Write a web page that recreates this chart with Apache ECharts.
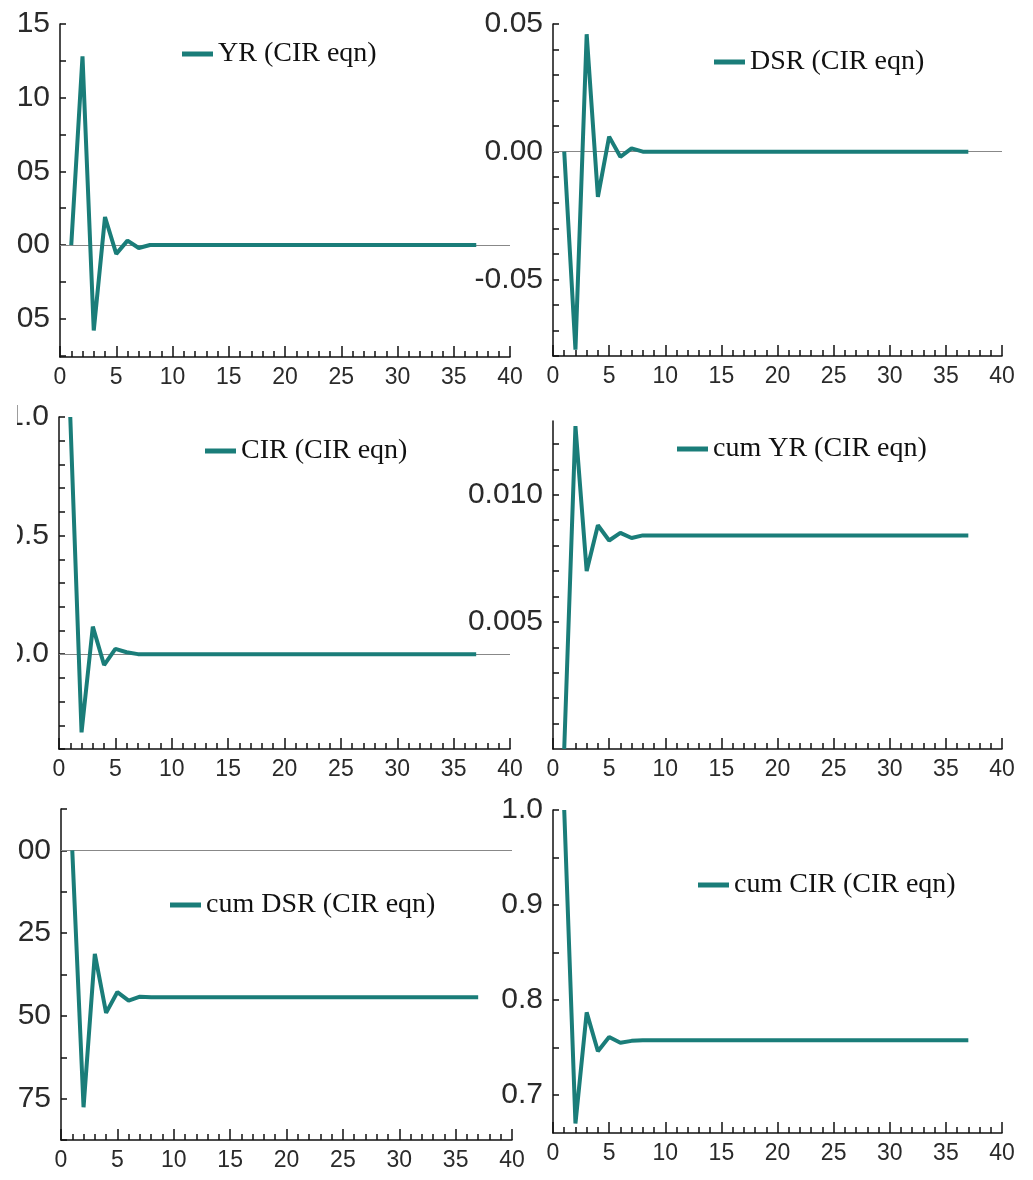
<!doctype html>
<html>
<head>
<meta charset="UTF-8">
<title>Impulse responses (CIR eqn)</title>
<script src="https://cdn.jsdelivr.net/npm/echarts@6/dist/echarts.min.js"></script>
<style>
	html, body { margin: 0; padding: 0; background: #fff; }
	#chart { position: absolute; left: 17px; top: 0; width: 1016px; height: 1180px; }
</style>
</head>
<body>
<div id="chart"></div>
<script>
// horizons 1..37
var horizons = [1, 2, 3, 4, 5, 6, 7, 8, 9, 10, 11, 12, 13, 14, 15, 16, 17, 18, 19, 20,
	21, 22, 23, 24, 25, 26, 27, 28, 29, 30, 31, 32, 33, 34, 35, 36, 37];

var yr = [0, 0.0128, -0.0058, 0.0019, -0.0006, 0.0003, -0.0002, 0, 0, 0, 0, 0, 0, 0, 0, 0, 0, 0, 0, 0,
	0, 0, 0, 0, 0, 0, 0, 0, 0, 0, 0, 0, 0, 0, 0, 0, 0];
var dsr = [0, -0.0775, 0.0460, -0.0177, 0.0059, -0.0020, 0.0013, 0, 0, 0, 0, 0, 0, 0, 0, 0, 0, 0, 0, 0,
	0, 0, 0, 0, 0, 0, 0, 0, 0, 0, 0, 0, 0, 0, 0, 0, 0];
var cir = [1.0, -0.33, 0.116, -0.046, 0.022, 0.008, 0, 0, 0, 0, 0, 0, 0, 0, 0, 0, 0, 0, 0, 0,
	0, 0, 0, 0, 0, 0, 0, 0, 0, 0, 0, 0, 0, 0, 0, 0, 0];
var cumYr = [0, 0.0127, 0.0070, 0.0088, 0.0082, 0.0085, 0.0083, 0.0084, 0.0084, 0.0084, 0.0084, 0.0084,
	0.0084, 0.0084, 0.0084, 0.0084, 0.0084, 0.0084, 0.0084, 0.0084, 0.0084, 0.0084, 0.0084, 0.0084, 0.0084,
	0.0084, 0.0084, 0.0084, 0.0084, 0.0084, 0.0084, 0.0084, 0.0084, 0.0084, 0.0084, 0.0084, 0.0084];
var cumDsr = [0, -0.0776, -0.0313, -0.0491, -0.0428, -0.0454, -0.0442, -0.0444, -0.0444, -0.0444, -0.0444,
	-0.0444, -0.0444, -0.0444, -0.0444, -0.0444, -0.0444, -0.0444, -0.0444, -0.0444, -0.0444, -0.0444,
	-0.0444, -0.0444, -0.0444, -0.0444, -0.0444, -0.0444, -0.0444, -0.0444, -0.0444, -0.0444, -0.0444,
	-0.0444, -0.0444, -0.0444, -0.0444];
var cumCir = [1.0, 0.670, 0.787, 0.746, 0.761, 0.755, 0.757, 0.7576, 0.7576, 0.7576, 0.7576, 0.7576,
	0.7576, 0.7576, 0.7576, 0.7576, 0.7576, 0.7576, 0.7576, 0.7576, 0.7576, 0.7576, 0.7576, 0.7576, 0.7576,
	0.7576, 0.7576, 0.7576, 0.7576, 0.7576, 0.7576, 0.7576, 0.7576, 0.7576, 0.7576, 0.7576, 0.7576];

var names = ['YR (CIR eqn)', 'DSR (CIR eqn)', 'CIR (CIR eqn)', 'cum YR (CIR eqn)', 'cum DSR (CIR eqn)', 'cum CIR (CIR eqn)'];
var values = [yr, dsr, cir, cumYr, cumDsr, cumCir];

// y axis: labelled values, tick values, range, decimals
var yLabels = [
	[-0.005, 0, 0.005, 0.010, 0.015],
	[-0.05, 0, 0.05],
	[0, 0.5, 1.0],
	[0.005, 0.010],
	[-0.075, -0.05, -0.025, 0],
	[0.7, 0.8, 0.9, 1.0]
];
var yTicks = [
	[-0.0075, -0.005, -0.0025, 0, 0.0025, 0.005, 0.0075, 0.010, 0.0125, 0.015],
	[-0.08, -0.07, -0.06, -0.05, -0.04, -0.03, -0.02, -0.01, 0, 0.01, 0.02, 0.03, 0.04, 0.05],
	[-0.4, -0.3, -0.2, -0.1, 0, 0.1, 0.2, 0.3, 0.4, 0.5, 0.6, 0.7, 0.8, 0.9, 1.0],
	[0.001, 0.002, 0.003, 0.004, 0.005, 0.006, 0.007, 0.008, 0.009, 0.010, 0.011, 0.012, 0.013],
	[-0.0875, -0.075, -0.0625, -0.05, -0.0375, -0.025, -0.0125, 0, 0.0125],
	[0.7, 0.75, 0.8, 0.85, 0.9, 0.95, 1.0]
];
var yMin = [-0.0076, -0.08, -0.4, 0, -0.0875, 0.66];
var yMax = [0.015, 0.05, 1.0, 0.0129, 0.0125, 1.0];
var yDec = [3, 2, 1, 3, 3, 1];
var zeroLine = [true, true, true, false, true, false];

// layout in container coordinates (container starts at x = 17)
var grids = [
	{ left: 43, top: 24, width: 450, height: 333 },
	{ left: 536, top: 24, width: 449, height: 332 },
	{ left: 42, top: 417, width: 451, height: 332 },
	{ left: 536, top: 421, width: 449, height: 328 },
	{ left: 44, top: 809, width: 451, height: 331 },
	{ left: 536, top: 810, width: 449, height: 323 }
];
var legendPos = [
	{ left: 165, top: 40 },
	{ left: 697, top: 48 },
	{ left: 188, top: 437 },
	{ left: 660, top: 435 },
	{ left: 153, top: 891 },
	{ left: 681, top: 871 }
];

var teal = '#1a7d79';
var axisColor = '#111';

var option = { animation: false, grid: [], xAxis: [], yAxis: [], series: [], legend: [] };

for (var i = 0; i < 6; i++) {
	var g = grids[i];
	option.grid.push({ left: g.left, top: g.top, width: g.width, height: g.height, containLabel: false, outerBoundsMode: 'none' });

	option.xAxis.push({
		type: 'value', gridIndex: i, min: 0, max: 40, interval: 5,
		axisLine: { onZero: false, lineStyle: { color: axisColor, width: 1.5 } },
		axisTick: { inside: true, length: 11, lineStyle: { color: axisColor, width: 1.5 } },
		minorTick: { show: true, splitNumber: 5, length: 6, lineStyle: { color: axisColor, width: 1.5 } },
		splitLine: { show: false },
		axisLabel: { margin: 9, color: '#2a2a2a', fontFamily: 'Liberation Sans', fontSize: 23 }
	});

	(function (dec) {
		option.yAxis.push({
			type: 'value', gridIndex: i, min: yMin[i], max: yMax[i],
			axisLine: { show: true, onZero: false, lineStyle: { color: axisColor, width: 1.5 } },
			axisTick: { show: true, inside: true, length: 6, customValues: yTicks[i], lineStyle: { color: axisColor, width: 1.5 } },
			splitLine: { show: false },
			axisLabel: {
				margin: 10, color: '#2a2a2a', fontFamily: 'Liberation Sans', fontSize: 30,
				customValues: yLabels[i],
				formatter: function (v) { return v.toFixed(dec); }
			}
		});
	})(yDec[i]);

	var s = {
		name: names[i], type: 'line', xAxisIndex: i, yAxisIndex: i, z: 3,
		data: horizons.map(function (h, k) { return [h, values[i][k]]; }),
		symbol: 'none', color: teal,
		lineStyle: { color: teal, width: 4 }
	};
	if (zeroLine[i]) {
		s.markLine = {
			silent: true, z: 1, symbol: 'none', animation: false,
			label: { show: false },
			lineStyle: { color: '#888', width: 1, type: 'solid' },
			data: [{ yAxis: 0 }]
		};
	}
	option.series.push(s);

	option.legend.push({
		data: [names[i]], left: legendPos[i].left, top: legendPos[i].top,
		padding: 0, icon: 'rect', itemWidth: 31, itemHeight: 5, selectedMode: false,
		textStyle: { fontFamily: 'Liberation Serif', fontSize: 28, color: '#111' }
	});
}

var myChart = echarts.init(document.getElementById('chart'), null, { renderer: 'canvas' });
myChart.setOption(option);
</script>
</body>
</html>
